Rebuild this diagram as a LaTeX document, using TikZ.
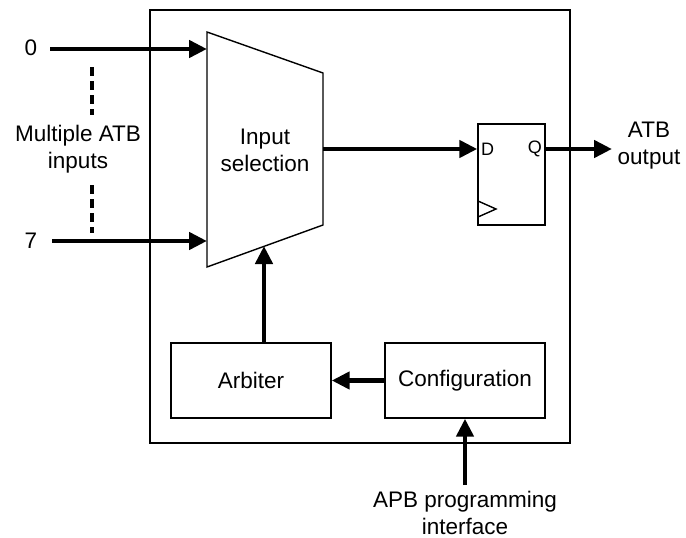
\documentclass[tikz,border=0pt]{standalone}
\usepackage{fontspec}
\setmainfont{Liberation Sans}
\usetikzlibrary{arrows.meta}
\begin{document}
\begin{tikzpicture}[x=1pt,y=-1pt,
  thin line/.style={line width=1.4pt},
  bus/.style={line width=4.6pt,-{Triangle[length=18pt,width=17pt]}},
  dashbus/.style={line width=4.6pt,dash pattern=on 9pt off 5pt},
  box/.style={draw,thin line,minimum width=#1,minimum height=75pt,inner sep=0pt,font=\fontsize{22.5}{27}\selectfont},
  lbl/.style={font=\fontsize{22.5}{27}\selectfont,align=center,inner sep=0pt},
  small/.style={font=\fontsize{18}{20}\selectfont,inner sep=0pt}]
\useasboundingbox (0,0) rectangle (686,538);
% outer box
\draw[thin line] (150,10) rectangle (570,443);
% mux
\draw[thin line,fill=white] (207,32) -- (323,73) -- (323,225) -- (207,267) -- cycle;
\node[lbl] (mux) at (265,150) {Input\\selection};
\coordinate (m0) at (207,49);
\coordinate (m7) at (207,241);
\coordinate (mout) at (323,149);
\coordinate (msel) at (264,246);
% flip-flop
\node[draw,thin line,minimum width=67pt,minimum height=101pt,inner sep=0pt] (ff) at (511.5,174.5) {};
\draw[thin line] (478,201) -- (496,209) -- (478,217);
\node[small,anchor=west] at (481,149) {D};
\node[small,anchor=east] at (542,149) {Q};
% arbiter and configuration
\node[box=160pt] (arb) at (251,380.5) {Arbiter};
\node[box=160pt] (cfg) at (465,380.5) {Configuration};
% inputs
\node[lbl] (in0) at (31,48) {0};
\node[lbl] (in7) at (31,241) {7};
\node[lbl] (multi) at (78,149) {Multiple ATB\\inputs};
\coordinate (s0) at (50,49);
\coordinate (s7) at (52,241);
\draw[bus] (s0) -- (m0);
\draw[bus] (s7) -- (m7);
\coordinate (d1a) at (92,67); \coordinate (d1b) at (92,115);
\coordinate (d2a) at (92,185); \coordinate (d2b) at (92,233);
\draw[dashbus] (d1a) -- (d1b);
\draw[dashbus] (d2a) -- (d2b);
% data path
\draw[bus] (mout) -- (ff.west |- mout);
\coordinate (oend) at (612,149);
\draw[bus] (ff.east |- mout) -- (oend);
\node[lbl] (out) at (649,146) {ATB\\output};
% control
\draw[bus] (arb.north -| msel) -- (msel);
\draw[bus] (cfg.west) -- (arb.east);
\coordinate (apb) at (465,485);
\draw[bus] (apb) -- (cfg.south);
\node[lbl] (apbl) at (465,513) {APB programming\\interface};
\end{tikzpicture}
\end{document}
